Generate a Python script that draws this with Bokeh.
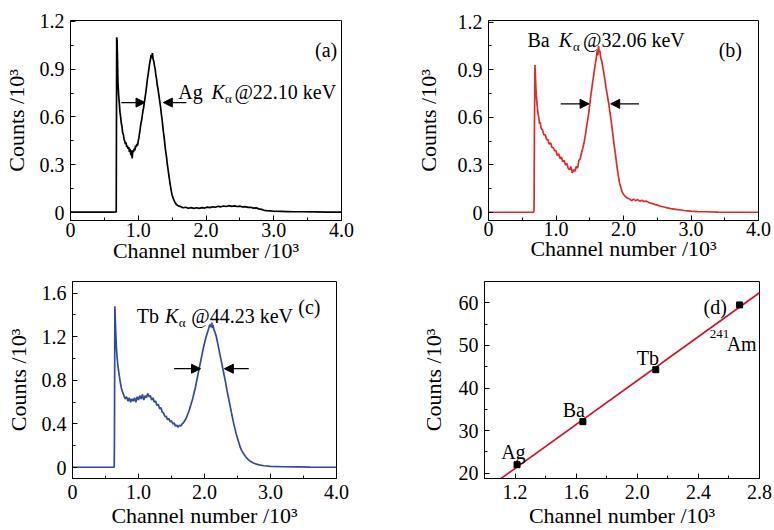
from bokeh.plotting import figure
from bokeh.layouts import row, column
from bokeh.models import FixedTicker, Arrow, NormalHead, Label, Range1d
from bokeh.embed import file_html
from bokeh.resources import INLINE
import numpy as np

FONT = "Liberation Serif"

# ---------------- data (channel number /10^3, counts /10^3) ----------------
AG_CH = [0.0, 0.3, 0.6, 0.675, 0.682, 0.688, 0.695, 0.70, 0.71, 0.72,
         0.73, 0.74, 0.75, 0.76, 0.77, 0.78, 0.79, 0.80, 0.81, 0.82,
         0.83, 0.84, 0.85, 0.86, 0.87, 0.88, 0.89, 0.90, 0.91, 0.92,
         0.93, 0.94, 0.95, 0.96, 0.97, 0.98, 0.99, 1.00, 1.01, 1.02,
         1.03, 1.04, 1.05, 1.06, 1.07, 1.08, 1.09, 1.10, 1.11, 1.12,
         1.13, 1.14, 1.15, 1.16, 1.17, 1.18, 1.19, 1.20, 1.21, 1.22,
         1.23, 1.24, 1.25, 1.26, 1.27, 1.28, 1.29, 1.30, 1.31, 1.32,
         1.33, 1.34, 1.35, 1.36, 1.37, 1.38, 1.39, 1.40, 1.41, 1.42,
         1.43, 1.44, 1.45, 1.46, 1.47, 1.48, 1.49, 1.50, 1.52, 1.54,
         1.56, 1.58, 1.60, 1.63, 1.66, 1.70, 1.74, 1.78, 1.82, 1.86,
         1.90, 1.94, 1.98, 2.02, 2.06, 2.10, 2.14, 2.18, 2.22, 2.26,
         2.30, 2.34, 2.38, 2.42, 2.46, 2.50, 2.54, 2.58, 2.62, 2.66,
         2.70, 2.74, 2.78, 2.82, 2.86, 2.90, 2.95, 3.00, 3.10, 3.20,
         3.30, 3.40, 3.60, 3.80, 4.00]
AG_CT = [0.003, 0.003, 0.003, 0.004, 1.10, 1.08, 0.93, 0.82, 0.74, 0.69,
         0.63, 0.60, 0.56, 0.54, 0.50, 0.49, 0.46, 0.45, 0.43, 0.44,
         0.41, 0.42, 0.40, 0.41, 0.38, 0.40, 0.36, 0.39, 0.34, 0.39,
         0.38, 0.40, 0.39, 0.42, 0.41, 0.43, 0.42, 0.45, 0.47, 0.50,
         0.53, 0.56, 0.58, 0.61, 0.64, 0.66, 0.69, 0.72, 0.75, 0.78,
         0.82, 0.85, 0.88, 0.91, 0.94, 0.96, 0.99, 0.97, 1.00, 0.96,
         0.95, 0.92, 0.90, 0.86, 0.84, 0.80, 0.78, 0.75, 0.72, 0.69,
         0.66, 0.62, 0.59, 0.55, 0.51, 0.48, 0.44, 0.40, 0.37, 0.34,
         0.30, 0.27, 0.24, 0.21, 0.18, 0.155, 0.13, 0.11, 0.085, 0.065,
         0.052, 0.045, 0.040, 0.036, 0.030, 0.033, 0.027, 0.031, 0.026, 0.030,
         0.026, 0.031, 0.028, 0.034, 0.031, 0.036, 0.033, 0.039, 0.036, 0.041,
         0.038, 0.043, 0.039, 0.042, 0.038, 0.040, 0.035, 0.037, 0.032, 0.033,
         0.028, 0.029, 0.023, 0.020, 0.014, 0.012, 0.010, 0.008, 0.007, 0.006,
         0.005, 0.005, 0.004, 0.003, 0.003]

BA_CH = [0.0, 0.3, 0.6, 0.665, 0.675, 0.68, 0.688, 0.695, 0.705, 0.715,
         0.725, 0.735, 0.745, 0.755, 0.765, 0.78, 0.80, 0.82, 0.84, 0.86,
         0.88, 0.90, 0.92, 0.94, 0.96, 0.98, 1.00, 1.02, 1.04, 1.06,
         1.08, 1.10, 1.12, 1.14, 1.16, 1.18, 1.20, 1.22, 1.24, 1.26,
         1.28, 1.30, 1.32, 1.34, 1.36, 1.38, 1.40, 1.42, 1.44, 1.46,
         1.48, 1.50, 1.52, 1.54, 1.56, 1.58, 1.60, 1.61, 1.62, 1.63,
         1.64, 1.65, 1.66, 1.68, 1.70, 1.72, 1.74, 1.76, 1.78, 1.80,
         1.82, 1.84, 1.86, 1.88, 1.90, 1.92, 1.94, 1.96, 1.98, 2.00,
         2.03, 2.06, 2.09, 2.12, 2.15, 2.18, 2.21, 2.24, 2.27, 2.30,
         2.34, 2.38, 2.42, 2.46, 2.50, 2.55, 2.60, 2.65, 2.70, 2.75,
         2.80, 2.85, 2.90, 2.95, 3.00, 3.10, 3.20, 3.40, 3.60, 3.80,
         4.00]
BA_CT = [0.002, 0.002, 0.002, 0.003, 0.01, 0.50, 0.93, 0.86, 0.76, 0.70,
         0.66, 0.62, 0.60, 0.56, 0.57, 0.53, 0.52, 0.49, 0.49, 0.46,
         0.46, 0.43, 0.44, 0.41, 0.41, 0.39, 0.39, 0.36, 0.37, 0.34,
         0.35, 0.32, 0.33, 0.30, 0.31, 0.28, 0.27, 0.29, 0.25, 0.27,
         0.26, 0.29, 0.28, 0.33, 0.34, 0.38, 0.41, 0.45, 0.50, 0.56,
         0.61, 0.68, 0.75, 0.81, 0.87, 0.93, 0.98, 1.02, 0.99, 1.05,
         1.01, 1.02, 0.98, 0.95, 0.90, 0.85, 0.79, 0.74, 0.69, 0.63,
         0.57, 0.50, 0.43, 0.37, 0.30, 0.24, 0.19, 0.16, 0.13, 0.115,
         0.10, 0.09, 0.085, 0.075, 0.085, 0.075, 0.082, 0.072, 0.078, 0.070,
         0.072, 0.062, 0.058, 0.052, 0.047, 0.040, 0.035, 0.030, 0.025, 0.022,
         0.018, 0.016, 0.013, 0.011, 0.009, 0.006, 0.005, 0.003, 0.002, 0.002,
         0.002]

TB_CH = [0.0, 0.3, 0.6, 0.632, 0.636, 0.642, 0.648, 0.655, 0.665, 0.675,
         0.685, 0.695, 0.71, 0.725, 0.74, 0.76, 0.78, 0.80, 0.82, 0.84,
         0.86, 0.88, 0.90, 0.92, 0.94, 0.96, 0.98, 1.00, 1.02, 1.04,
         1.06, 1.08, 1.10, 1.12, 1.14, 1.16, 1.18, 1.20, 1.22, 1.24,
         1.26, 1.28, 1.30, 1.32, 1.34, 1.36, 1.38, 1.40, 1.42, 1.44,
         1.46, 1.48, 1.50, 1.52, 1.54, 1.56, 1.58, 1.60, 1.62, 1.64,
         1.66, 1.68, 1.70, 1.72, 1.74, 1.76, 1.78, 1.80, 1.82, 1.84,
         1.86, 1.88, 1.90, 1.92, 1.94, 1.96, 1.98, 2.00, 2.02, 2.04,
         2.06, 2.08, 2.10, 2.11, 2.12, 2.13, 2.14, 2.16, 2.18, 2.20,
         2.22, 2.24, 2.26, 2.28, 2.30, 2.32, 2.34, 2.36, 2.38, 2.40,
         2.42, 2.44, 2.46, 2.48, 2.50, 2.52, 2.54, 2.56, 2.58, 2.60,
         2.63, 2.66, 2.70, 2.75, 2.80, 2.85, 2.90, 3.00, 3.20, 3.40,
         3.60, 3.80, 4.00]
TB_CT = [0.003, 0.003, 0.003, 0.004, 0.30, 1.48, 1.36, 1.25, 1.10, 1.02,
         0.95, 0.90, 0.84, 0.78, 0.73, 0.69, 0.66, 0.63, 0.65, 0.61,
         0.64, 0.60, 0.63, 0.61, 0.64, 0.60, 0.65, 0.62, 0.66, 0.63,
         0.67, 0.62, 0.66, 0.64, 0.68, 0.65, 0.66, 0.62, 0.64, 0.60,
         0.61, 0.57, 0.58, 0.54, 0.55, 0.51, 0.50, 0.47, 0.47, 0.44,
         0.45, 0.42, 0.43, 0.40, 0.41, 0.38, 0.39, 0.37, 0.39, 0.38,
         0.40, 0.41, 0.43, 0.45, 0.48, 0.51, 0.55, 0.59, 0.63, 0.68,
         0.73, 0.79, 0.85, 0.91, 0.97, 1.03, 1.09, 1.14, 1.19, 1.23,
         1.27, 1.31, 1.29, 1.33, 1.28, 1.31, 1.27, 1.24, 1.20, 1.14,
         1.08, 1.02, 0.96, 0.90, 0.84, 0.78, 0.71, 0.65, 0.59, 0.53,
         0.47, 0.41, 0.36, 0.31, 0.27, 0.23, 0.19, 0.16, 0.14, 0.12,
         0.095, 0.075, 0.055, 0.040, 0.030, 0.022, 0.017, 0.012, 0.008, 0.006,
         0.004, 0.003, 0.003]

# panel (d): calibration points
CAL_NAMES = ["Ag", "Ba", "Tb", "Am"]
CAL_CH = [1.213, 1.644, 2.121, 2.670]
CAL_CT = [22.0, 32.1, 44.3, 59.5]

# tick values and labels
X_TICKS = [0, 1, 2, 3, 4]
X_LABELS = ["0", "1.0", "2.0", "3.0", "4.0"]
X_MINOR = [0.5, 1.5, 2.5, 3.5]
AB_Y_TICKS = [0, 0.3, 0.6, 0.9, 1.2]
AB_Y_LABELS = ["0", "0.3", "0.6", "0.9", "1.2"]
AB_Y_MINOR = [0.15, 0.45, 0.75, 1.05]
C_Y_TICKS = [0, 0.4, 0.8, 1.2, 1.6]
C_Y_LABELS = ["0", "0.4", "0.8", "1.2", "1.6"]
C_Y_MINOR = [0.2, 0.6, 1.0, 1.4]
D_X_TICKS = [1.2, 1.6, 2.0, 2.4, 2.8]
D_X_LABELS = ["1.2", "1.6", "2.0", "2.4", "2.8"]
D_X_MINOR = [1.4, 1.8, 2.2, 2.6]
D_Y_TICKS = [20, 30, 40, 50, 60]
D_Y_LABELS = ["20", "30", "40", "50", "60"]
D_Y_MINOR = [25, 35, 45, 55]

X_TITLE = "Channel number /10³"
Y_TITLE = "Counts /10³"

TICK_FS = "20px"
TITLE_FS = "22px"
ANN_FS = "20px"


def make_fig(width, height, bl, br, bt, bb, xr, yr, xt, xl, xm, yt, yl, ym,
             ystand, xstand, xtitle_stand):
    p = figure(width=width, height=height, x_range=Range1d(*xr), y_range=Range1d(*yr),
               output_backend="svg", toolbar_location=None,
               min_border_left=bl, min_border_right=br, min_border_top=bt, min_border_bottom=bb)
    p.xgrid.visible = False
    p.ygrid.visible = False
    p.outline_line_color = "black"
    p.outline_line_width = 1
    p.outline_line_alpha = 1
    p.background_fill_color = "white"
    p.border_fill_color = "white"
    p.xaxis.ticker = FixedTicker(ticks=xt, minor_ticks=xm)
    p.yaxis.ticker = FixedTicker(ticks=yt, minor_ticks=ym)
    p.xaxis.major_label_overrides = {float(t): s for t, s in zip(xt, xl)}
    p.yaxis.major_label_overrides = {float(t): s for t, s in zip(yt, yl)}
    p.xaxis.axis_label = X_TITLE
    p.yaxis.axis_label = Y_TITLE
    for ax in (p.xaxis[0], p.yaxis[0]):
        ax.axis_line_color = "black"
        ax.major_tick_line_color = "black"
        ax.minor_tick_line_color = "black"
        ax.major_tick_in = 5
        ax.major_tick_out = 0
        ax.minor_tick_in = 3
        ax.minor_tick_out = 0
        ax.major_label_text_font = FONT
        ax.major_label_text_font_size = TICK_FS
        ax.major_label_text_color = "black"
        ax.axis_label_text_font = FONT
        ax.axis_label_text_font_size = TITLE_FS
        ax.axis_label_text_font_style = "normal"
        ax.axis_label_text_color = "black"
    p.xaxis.major_label_standoff = xstand
    p.xaxis.axis_label_standoff = xtitle_stand
    p.yaxis.major_label_standoff = 6
    p.yaxis.axis_label_standoff = ystand
    return p


def add_text(p, x, y, text, size=ANN_FS, style="normal"):
    p.add_layout(Label(x=x, y=y, text=text, text_font=FONT, text_font_size=size,
                       text_font_style=style, text_baseline="alphabetic", text_align="left",
                       text_color="black"))


def add_arrow(p, x0, x1, y):
    p.add_layout(Arrow(end=NormalHead(size=9, fill_color="black", line_color="black", line_width=1),
                       x_start=x0, y_start=y, x_end=x1, y_end=y, line_color="black", line_width=1.2))


def k_alpha(p, x_el, el, x_k, x_a, x_rest, rest, y, y_a):
    add_text(p, x_el, y, el)
    add_text(p, x_k, y, "K", style="italic")
    add_text(p, x_a, y_a, "α", size="13px")
    add_text(p, x_rest, y, rest)


# (a)
pa = make_fig(390, 265, 69, 49, 20, 45, (0, 4), (-0.05, 1.205),
              X_TICKS, X_LABELS, X_MINOR, AB_Y_TICKS, AB_Y_LABELS, AB_Y_MINOR,
              8, 2, -2)
pa.line(AG_CH, AG_CT, line_color="black", line_width=1.7)
add_arrow(pa, 0.75, 1.10, 0.69)
add_arrow(pa, 1.71, 1.37, 0.69)
k_alpha(pa, 1.59, "Ag", 2.08, 2.28, 2.42, "@22.10 keV", 0.755, 0.715)
add_text(pa, 3.61, 1.02, "(a)")

# (b)
pb = make_fig(384, 265, 98, 16, 20, 43, (0, 4), (-0.05, 1.21),
              X_TICKS, X_LABELS, X_MINOR, AB_Y_TICKS, AB_Y_LABELS, AB_Y_MINOR,
              14, 1, -3)
pb.line(BA_CH, BA_CT, line_color="#dc2b2b", line_width=1.7)
add_arrow(pb, 1.07, 1.49, 0.685)
add_arrow(pb, 2.23, 1.81, 0.685)
k_alpha(pb, 0.576, "Ba", 1.04, 1.25, 1.40, "@32.06 keV", 1.086, 1.045)
add_text(pb, 3.41, 1.023, "(b)")

# (c)
pc = make_fig(390, 265, 72, 54, 16, 52, (0, 4), (-0.1, 1.707),
              X_TICKS, X_LABELS, X_MINOR, C_Y_TICKS, C_Y_LABELS, C_Y_MINOR,
              8, 6, 1)
pc.line(TB_CH, TB_CT, line_color="#2f4b9c", line_width=1.7)
add_arrow(pc, 1.54, 1.94, 0.907)
add_arrow(pc, 2.67, 2.30, 0.907)
k_alpha(pc, 0.973, "Tb", 1.40, 1.61, 1.80, "@44.23 keV", 1.395, 1.33)
add_text(pc, 3.42, 1.47, "(c)")

# (d)  (frame shares its top/bottom borders with (c) in the row)
pd_ = make_fig(384, 265, 94, 15, 16, 52, (1.0, 2.8), (18.76, 65.0),
               D_X_TICKS, D_X_LABELS, D_X_MINOR, D_Y_TICKS, D_Y_LABELS, D_Y_MINOR,
               10, 6, 1)
slope, icept = np.polyfit(CAL_CH, CAL_CT, 1)
fit_x = [pd_.x_range.start, pd_.x_range.end]
fit_y = [slope * v + icept for v in fit_x]
pd_.line(fit_x, fit_y, line_color="#d0102a", line_width=1.6)
pd_.scatter(CAL_CH, CAL_CT, marker="square", size=6, fill_color="black", line_color="black")
add_text(pd_, 1.109, 24.9, "Ag")
add_text(pd_, 1.512, 34.9, "Ba")
add_text(pd_, 1.997, 47.0, "Tb")
add_text(pd_, 2.474, 52.7, "241", size="13px")
add_text(pd_, 2.585, 50.4, "Am")
add_text(pd_, 2.434, 59.0, "(d)")

layout = column(row(pa, pb), row(pc, pd_))
open("out.html", "w").write(file_html(layout, INLINE))
